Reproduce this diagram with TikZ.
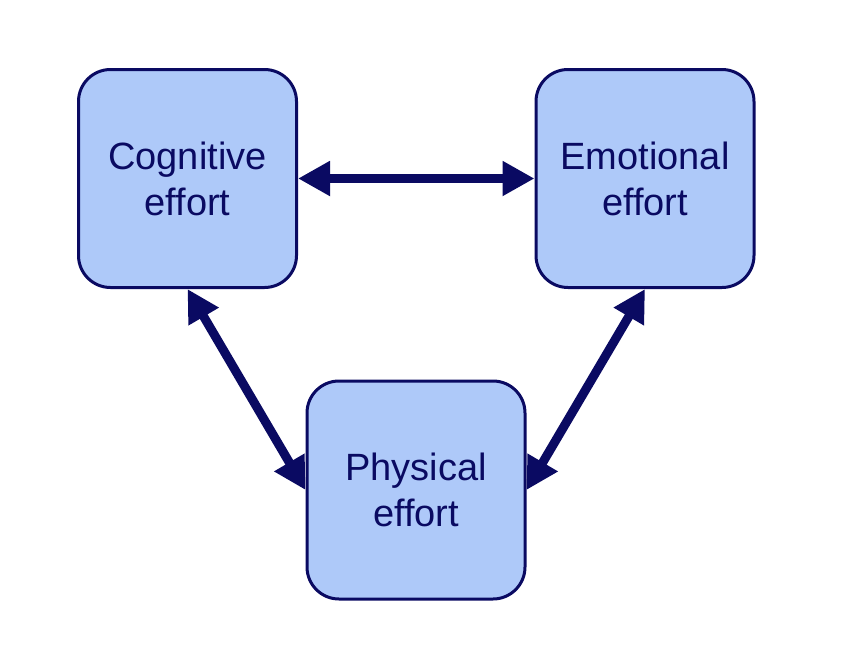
\documentclass[tikz,border=0pt]{standalone}
\usepackage{fontspec}
\setmainfont{Liberation Sans}
\usetikzlibrary{arrows.meta}
\definecolor{navy}{RGB}{10,10,98}
\definecolor{paleblue}{RGB}{174,201,249}
\newcommand{\effortfont}{\fontsize{38}{46}\selectfont}
\begin{document}
\begin{tikzpicture}[x=1pt,y=1pt]
\tikzstyle{effortbox}=[draw=navy, fill=paleblue, line width=3pt, rounded corners=32pt, minimum size=218pt, inner sep=0pt, align=center, text=navy, font=\effortfont]
\tikzstyle{link}=[navy, line width=9pt, >={Triangle[length=32pt,width=33pt]}, <->]
\useasboundingbox (0,0) rectangle (846,-656);
\node [effortbox] (cog) at (187.5,-178.5) {Cognitive\\effort};
\node [effortbox] (emo) at (645,-178.5) {Emotional\\effort};
\node [effortbox] (phys) at (416,-490) {Physical\\effort};
\draw [link] (cog.east) -- (emo.west);
\draw [link] (cog.south) -- (phys.west);
\draw [link] (emo.south) -- (phys.east);
\end{tikzpicture}
\end{document}
